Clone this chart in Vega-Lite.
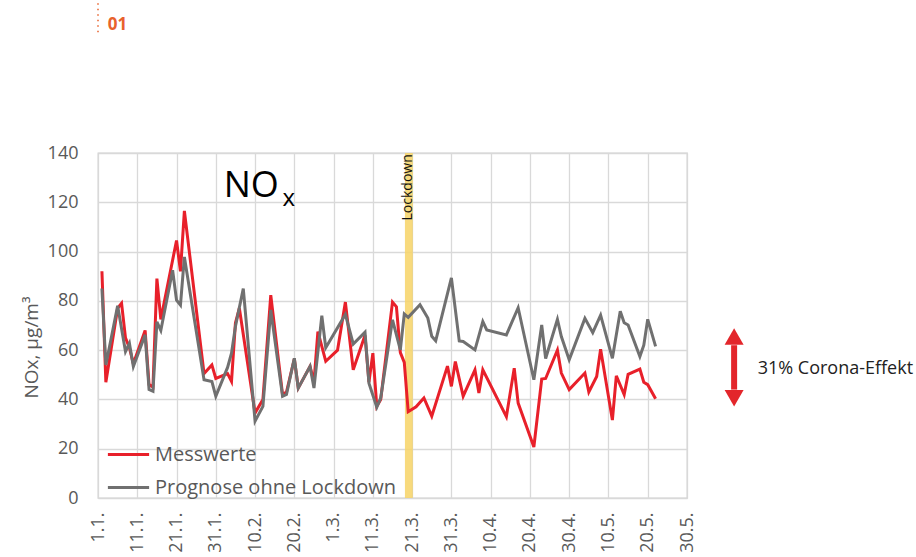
{
  "$schema": "https://vega.github.io/schema/vega-lite/v6.json",
  "width": 589,
  "height": 345,
  "autosize": "none",
  "padding": {"left": 98, "top": 153, "right": 229, "bottom": 59},
  "background": "white",
  "config": {
    "font": "Open Sans",
    "view": {"stroke": "#d0d0d0", "strokeWidth": 1.3},
    "axis": {"gridColor": "#d9d9d9", "gridWidth": 1.3, "ticks": false, "domain": false, "labelColor": "#595959", "labelFontSize": 18, "titleColor": "#595959", "titleFontWeight": "normal"}
  },
  "datasets": {
    "lines": [
      {"date": "2020-01-02", "series": "Messwerte", "value": 92},
      {"date": "2020-01-03", "series": "Messwerte", "value": 47},
      {"date": "2020-01-06", "series": "Messwerte", "value": 77},
      {"date": "2020-01-07", "series": "Messwerte", "value": 79},
      {"date": "2020-01-08", "series": "Messwerte", "value": 65},
      {"date": "2020-01-09", "series": "Messwerte", "value": 61},
      {"date": "2020-01-10", "series": "Messwerte", "value": 54.5},
      {"date": "2020-01-13", "series": "Messwerte", "value": 68},
      {"date": "2020-01-14", "series": "Messwerte", "value": 46},
      {"date": "2020-01-15", "series": "Messwerte", "value": 45},
      {"date": "2020-01-16", "series": "Messwerte", "value": 89},
      {"date": "2020-01-17", "series": "Messwerte", "value": 72.5},
      {"date": "2020-01-21", "series": "Messwerte", "value": 104.5},
      {"date": "2020-01-22", "series": "Messwerte", "value": 92},
      {"date": "2020-01-23", "series": "Messwerte", "value": 116.5},
      {"date": "2020-01-28", "series": "Messwerte", "value": 50.5},
      {"date": "2020-01-30", "series": "Messwerte", "value": 54},
      {"date": "2020-01-31", "series": "Messwerte", "value": 48.5},
      {"date": "2020-02-03", "series": "Messwerte", "value": 50.5},
      {"date": "2020-02-04", "series": "Messwerte", "value": 47.3},
      {"date": "2020-02-05", "series": "Messwerte", "value": 71},
      {"date": "2020-02-06", "series": "Messwerte", "value": 77},
      {"date": "2020-02-10", "series": "Messwerte", "value": 34.5},
      {"date": "2020-02-12", "series": "Messwerte", "value": 40},
      {"date": "2020-02-14", "series": "Messwerte", "value": 82.3},
      {"date": "2020-02-17", "series": "Messwerte", "value": 42},
      {"date": "2020-02-18", "series": "Messwerte", "value": 43},
      {"date": "2020-02-20", "series": "Messwerte", "value": 56.5},
      {"date": "2020-02-21", "series": "Messwerte", "value": 44.6},
      {"date": "2020-02-24", "series": "Messwerte", "value": 53.4},
      {"date": "2020-02-25", "series": "Messwerte", "value": 47},
      {"date": "2020-02-26", "series": "Messwerte", "value": 67.5},
      {"date": "2020-02-28", "series": "Messwerte", "value": 55.5},
      {"date": "2020-03-02", "series": "Messwerte", "value": 60},
      {"date": "2020-03-04", "series": "Messwerte", "value": 79.5},
      {"date": "2020-03-06", "series": "Messwerte", "value": 52},
      {"date": "2020-03-09", "series": "Messwerte", "value": 66},
      {"date": "2020-03-10", "series": "Messwerte", "value": 47},
      {"date": "2020-03-11", "series": "Messwerte", "value": 58.8},
      {"date": "2020-03-12", "series": "Messwerte", "value": 37.2},
      {"date": "2020-03-13", "series": "Messwerte", "value": 40},
      {"date": "2020-03-16", "series": "Messwerte", "value": 79.5},
      {"date": "2020-03-17", "series": "Messwerte", "value": 77.6},
      {"date": "2020-03-18", "series": "Messwerte", "value": 59},
      {"date": "2020-03-19", "series": "Messwerte", "value": 55},
      {"date": "2020-03-20", "series": "Messwerte", "value": 35},
      {"date": "2020-03-22", "series": "Messwerte", "value": 37},
      {"date": "2020-03-24", "series": "Messwerte", "value": 40.6},
      {"date": "2020-03-26", "series": "Messwerte", "value": 33.2},
      {"date": "2020-03-30", "series": "Messwerte", "value": 53.5},
      {"date": "2020-03-31", "series": "Messwerte", "value": 45.3},
      {"date": "2020-04-01", "series": "Messwerte", "value": 55.4},
      {"date": "2020-04-03", "series": "Messwerte", "value": 41.3},
      {"date": "2020-04-06", "series": "Messwerte", "value": 52},
      {"date": "2020-04-07", "series": "Messwerte", "value": 42.6},
      {"date": "2020-04-08", "series": "Messwerte", "value": 52},
      {"date": "2020-04-14", "series": "Messwerte", "value": 33},
      {"date": "2020-04-16", "series": "Messwerte", "value": 52.7},
      {"date": "2020-04-17", "series": "Messwerte", "value": 38.5},
      {"date": "2020-04-21", "series": "Messwerte", "value": 20.7},
      {"date": "2020-04-23", "series": "Messwerte", "value": 48.3},
      {"date": "2020-04-24", "series": "Messwerte", "value": 48.5},
      {"date": "2020-04-27", "series": "Messwerte", "value": 60},
      {"date": "2020-04-28", "series": "Messwerte", "value": 50.7},
      {"date": "2020-04-30", "series": "Messwerte", "value": 44},
      {"date": "2020-05-04", "series": "Messwerte", "value": 50.7},
      {"date": "2020-05-05", "series": "Messwerte", "value": 43},
      {"date": "2020-05-07", "series": "Messwerte", "value": 49.3},
      {"date": "2020-05-08", "series": "Messwerte", "value": 60.4},
      {"date": "2020-05-11", "series": "Messwerte", "value": 31.6},
      {"date": "2020-05-12", "series": "Messwerte", "value": 49.6},
      {"date": "2020-05-14", "series": "Messwerte", "value": 42},
      {"date": "2020-05-15", "series": "Messwerte", "value": 50.2},
      {"date": "2020-05-18", "series": "Messwerte", "value": 52.3},
      {"date": "2020-05-19", "series": "Messwerte", "value": 47},
      {"date": "2020-05-20", "series": "Messwerte", "value": 46},
      {"date": "2020-05-22", "series": "Messwerte", "value": 40.3},
      {"date": "2020-01-02", "series": "Prognose ohne Lockdown", "value": 85},
      {"date": "2020-01-03", "series": "Prognose ohne Lockdown", "value": 54},
      {"date": "2020-01-06", "series": "Prognose ohne Lockdown", "value": 78},
      {"date": "2020-01-08", "series": "Prognose ohne Lockdown", "value": 59.4},
      {"date": "2020-01-09", "series": "Prognose ohne Lockdown", "value": 62.8},
      {"date": "2020-01-10", "series": "Prognose ohne Lockdown", "value": 53.4},
      {"date": "2020-01-13", "series": "Prognose ohne Lockdown", "value": 66.2},
      {"date": "2020-01-14", "series": "Prognose ohne Lockdown", "value": 44},
      {"date": "2020-01-15", "series": "Prognose ohne Lockdown", "value": 43.3},
      {"date": "2020-01-16", "series": "Prognose ohne Lockdown", "value": 71.5},
      {"date": "2020-01-17", "series": "Prognose ohne Lockdown", "value": 68},
      {"date": "2020-01-20", "series": "Prognose ohne Lockdown", "value": 92.4},
      {"date": "2020-01-21", "series": "Prognose ohne Lockdown", "value": 80.3},
      {"date": "2020-01-22", "series": "Prognose ohne Lockdown", "value": 78.3},
      {"date": "2020-01-23", "series": "Prognose ohne Lockdown", "value": 97.8},
      {"date": "2020-01-28", "series": "Prognose ohne Lockdown", "value": 48},
      {"date": "2020-01-30", "series": "Prognose ohne Lockdown", "value": 47.3},
      {"date": "2020-01-31", "series": "Prognose ohne Lockdown", "value": 41.3},
      {"date": "2020-02-03", "series": "Prognose ohne Lockdown", "value": 53},
      {"date": "2020-02-04", "series": "Prognose ohne Lockdown", "value": 58.8},
      {"date": "2020-02-05", "series": "Prognose ohne Lockdown", "value": 69.6},
      {"date": "2020-02-07", "series": "Prognose ohne Lockdown", "value": 85},
      {"date": "2020-02-10", "series": "Prognose ohne Lockdown", "value": 31.2},
      {"date": "2020-02-12", "series": "Prognose ohne Lockdown", "value": 37.2},
      {"date": "2020-02-14", "series": "Prognose ohne Lockdown", "value": 76.3},
      {"date": "2020-02-17", "series": "Prognose ohne Lockdown", "value": 41.3},
      {"date": "2020-02-18", "series": "Prognose ohne Lockdown", "value": 42},
      {"date": "2020-02-20", "series": "Prognose ohne Lockdown", "value": 56.7},
      {"date": "2020-02-21", "series": "Prognose ohne Lockdown", "value": 44.6},
      {"date": "2020-02-24", "series": "Prognose ohne Lockdown", "value": 53.4},
      {"date": "2020-02-25", "series": "Prognose ohne Lockdown", "value": 44.6},
      {"date": "2020-02-27", "series": "Prognose ohne Lockdown", "value": 74},
      {"date": "2020-02-28", "series": "Prognose ohne Lockdown", "value": 61},
      {"date": "2020-03-04", "series": "Prognose ohne Lockdown", "value": 74.5},
      {"date": "2020-03-06", "series": "Prognose ohne Lockdown", "value": 62.5},
      {"date": "2020-03-09", "series": "Prognose ohne Lockdown", "value": 67.3},
      {"date": "2020-03-10", "series": "Prognose ohne Lockdown", "value": 46.6},
      {"date": "2020-03-12", "series": "Prognose ohne Lockdown", "value": 36.8},
      {"date": "2020-03-13", "series": "Prognose ohne Lockdown", "value": 40.6},
      {"date": "2020-03-16", "series": "Prognose ohne Lockdown", "value": 72.3},
      {"date": "2020-03-18", "series": "Prognose ohne Lockdown", "value": 60.1},
      {"date": "2020-03-19", "series": "Prognose ohne Lockdown", "value": 74.7},
      {"date": "2020-03-20", "series": "Prognose ohne Lockdown", "value": 73.3},
      {"date": "2020-03-23", "series": "Prognose ohne Lockdown", "value": 78.4},
      {"date": "2020-03-25", "series": "Prognose ohne Lockdown", "value": 73},
      {"date": "2020-03-26", "series": "Prognose ohne Lockdown", "value": 65.6},
      {"date": "2020-03-27", "series": "Prognose ohne Lockdown", "value": 63.8},
      {"date": "2020-03-31", "series": "Prognose ohne Lockdown", "value": 89.3},
      {"date": "2020-04-02", "series": "Prognose ohne Lockdown", "value": 63.7},
      {"date": "2020-04-03", "series": "Prognose ohne Lockdown", "value": 63.5},
      {"date": "2020-04-06", "series": "Prognose ohne Lockdown", "value": 60.1},
      {"date": "2020-04-08", "series": "Prognose ohne Lockdown", "value": 71.6},
      {"date": "2020-04-09", "series": "Prognose ohne Lockdown", "value": 68.2},
      {"date": "2020-04-14", "series": "Prognose ohne Lockdown", "value": 66.2},
      {"date": "2020-04-17", "series": "Prognose ohne Lockdown", "value": 77.2},
      {"date": "2020-04-21", "series": "Prognose ohne Lockdown", "value": 48},
      {"date": "2020-04-23", "series": "Prognose ohne Lockdown", "value": 70.2},
      {"date": "2020-04-24", "series": "Prognose ohne Lockdown", "value": 56.6},
      {"date": "2020-04-27", "series": "Prognose ohne Lockdown", "value": 72.5},
      {"date": "2020-04-28", "series": "Prognose ohne Lockdown", "value": 65.5},
      {"date": "2020-04-30", "series": "Prognose ohne Lockdown", "value": 56.1},
      {"date": "2020-05-04", "series": "Prognose ohne Lockdown", "value": 72.9},
      {"date": "2020-05-06", "series": "Prognose ohne Lockdown", "value": 67.1},
      {"date": "2020-05-08", "series": "Prognose ohne Lockdown", "value": 74.2},
      {"date": "2020-05-11", "series": "Prognose ohne Lockdown", "value": 56.7},
      {"date": "2020-05-13", "series": "Prognose ohne Lockdown", "value": 75.8},
      {"date": "2020-05-14", "series": "Prognose ohne Lockdown", "value": 71.1},
      {"date": "2020-05-15", "series": "Prognose ohne Lockdown", "value": 70.2},
      {"date": "2020-05-18", "series": "Prognose ohne Lockdown", "value": 57.4},
      {"date": "2020-05-19", "series": "Prognose ohne Lockdown", "value": 62},
      {"date": "2020-05-20", "series": "Prognose ohne Lockdown", "value": 72.5},
      {"date": "2020-05-22", "series": "Prognose ohne Lockdown", "value": 61.5}
    ]
  },
  "encoding": {
    "x": {
      "field": "date", "type": "temporal", "title": null,
      "scale": {"type": "utc", "domain": [{"year": 2020, "month": 1, "date": 1, "utc": true}, {"year": 2020, "month": 5, "date": 30, "utc": true}]},
      "axis": {
        "labelExpr": "utcFormat(datum.value, '%-d.%-m.')", "labelAngle": 270, "labelPadding": 14,
        "values": [
          {"year": 2020, "month": 1, "date": 1, "utc": true},
          {"year": 2020, "month": 1, "date": 11, "utc": true},
          {"year": 2020, "month": 1, "date": 21, "utc": true},
          {"year": 2020, "month": 1, "date": 31, "utc": true},
          {"year": 2020, "month": 2, "date": 10, "utc": true},
          {"year": 2020, "month": 2, "date": 20, "utc": true},
          {"year": 2020, "month": 3, "date": 1, "utc": true},
          {"year": 2020, "month": 3, "date": 11, "utc": true},
          {"year": 2020, "month": 3, "date": 21, "utc": true},
          {"year": 2020, "month": 3, "date": 31, "utc": true},
          {"year": 2020, "month": 4, "date": 10, "utc": true},
          {"year": 2020, "month": 4, "date": 20, "utc": true},
          {"year": 2020, "month": 4, "date": 30, "utc": true},
          {"year": 2020, "month": 5, "date": 10, "utc": true},
          {"year": 2020, "month": 5, "date": 20, "utc": true},
          {"year": 2020, "month": 5, "date": 30, "utc": true}
        ]
      }
    },
    "y": {
      "field": "value", "type": "quantitative", "title": "NOx, µg/m³",
      "scale": {"domain": [0, 140], "nice": false},
      "axis": {"values": [0, 20, 40, 60, 80, 100, 120, 140], "labelPadding": 20, "titleFontSize": 19, "titleX": -67, "titleY": 194, "titleBaseline": "middle", "titleAngle": 270}
    }
  },
  "layer": [
    {
      "data": {"values": [{"start": "2020-03-19T04:00:00Z", "end": "2020-03-21T04:00:00Z", "lo": 0, "hi": 140}]},
      "mark": {"type": "rect", "color": "#f7d466", "opacity": 0.85},
      "encoding": {"x": {"field": "start", "type": "temporal"}, "x2": {"field": "end"}, "y": {"field": "lo", "type": "quantitative"}, "y2": {"field": "hi"}}
    },
    {
      "data": {"name": "lines"},
      "transform": [{"filter": "datum.series === 'Messwerte'"}],
      "mark": {"type": "line", "strokeWidth": 3},
      "encoding": {
        "color": {"field": "series", "type": "nominal", "scale": {"domain": ["Messwerte", "Prognose ohne Lockdown"], "range": ["#e8202a", "#707070"]},
          "legend": {"title": null, "orient": "none", "legendX": 8, "legendY": 279, "symbolType": "stroke", "symbolStrokeWidth": 3, "symbolSize": 1700, "labelFontSize": 20, "labelLimit": 400, "labelColor": "#595959", "labelOffset": 4, "rowPadding": -8}}
      }
    },
    {
      "data": {"name": "lines"},
      "transform": [{"filter": "datum.series !== 'Messwerte'"}],
      "mark": {"type": "line", "strokeWidth": 3},
      "encoding": {"color": {"field": "series", "type": "nominal"}}
    },
    {
      "data": {"values": [{"date": "2020-03-20", "value": 139.5, "label": "Lockdown"}]},
      "mark": {"type": "text", "angle": 270, "align": "right", "baseline": "middle", "fontSize": 14, "color": "#111111"},
      "encoding": {"text": {"field": "label"}}
    },
    {
      "data": {"values": [{"date": "2020-02-02", "value": 122, "label": "NO"}]},
      "mark": {"type": "text", "align": "left", "baseline": "alphabetic", "fontSize": 36, "color": "#000000"},
      "encoding": {"text": {"field": "label"}}
    },
    {
      "data": {"values": [{"date": "2020-02-17", "value": 118.5, "label": "x"}]},
      "mark": {"type": "text", "align": "left", "baseline": "alphabetic", "fontSize": 24, "color": "#000000"},
      "encoding": {"text": {"field": "label"}}
    },
    {
      "data": {"values": [{"date": "2020-01-03T12:00:00Z", "value": 190, "label": "01"}]},
      "mark": {"type": "text", "align": "left", "baseline": "alphabetic", "fontSize": 17, "fontWeight": "bold", "color": "#e8622c"},
      "encoding": {"text": {"field": "label"}}
    },
    {
      "data": {"values": [{"date": "2020-01-01", "value": 189, "top": 203}]},
      "mark": {"type": "rule", "color": "#e8622c", "strokeWidth": 1.5, "strokeDash": [1.5, 4]},
      "encoding": {"y2": {"field": "top"}}
    },
    {
      "data": {"values": [{"date": "2020-06-11", "value": 44, "top": 62}]},
      "mark": {"type": "rule", "color": "#e3262b", "strokeWidth": 6},
      "encoding": {"y2": {"field": "top"}}
    },
    {
      "data": {"values": [{"date": "2020-06-11", "value": 65.5, "shape": "triangle-up"}, {"date": "2020-06-11", "value": 40.5, "shape": "triangle-down"}]},
      "mark": {"type": "point", "filled": true, "color": "#e3262b", "size": 360, "opacity": 1},
      "encoding": {"shape": {"field": "shape", "type": "nominal", "scale": null}}
    },
    {
      "data": {"values": [{"date": "2020-06-17", "value": 52.5, "label": "31% Corona-Effekt"}]},
      "mark": {"type": "text", "align": "left", "baseline": "middle", "fontSize": 18, "color": "#222222"},
      "encoding": {"text": {"field": "label"}}
    }
  ]
}
